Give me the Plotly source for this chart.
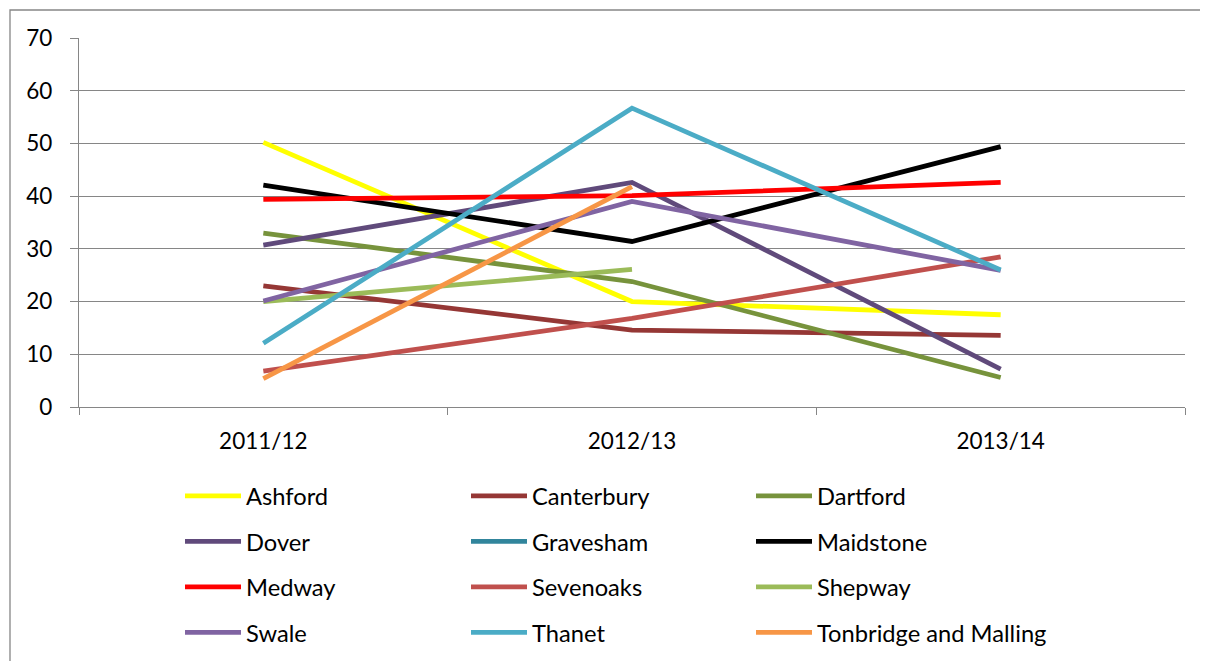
import plotly.graph_objects as go

years = ["2011/12", "2012/13", "2013/14"]
names = ["Ashford", "Canterbury", "Dartford", "Dover", "Gravesham", "Maidstone",
         "Medway", "Sevenoaks", "Shepway", "Swale", "Thanet", "Tonbridge and Malling"]
ashford = [50.2, 20.0, 17.5]
canterbury = [23.0, 14.6, 13.6]
dartford = [33.0, 23.8, 5.6]
dover = [30.7, 42.6, 7.2]
gravesham = [None, None, None]
maidstone = [42.1, 31.4, 49.4]
medway = [39.4, 40.1, 42.6]
sevenoaks = [6.8, 16.8, 28.5]
shepway = [20.0, 26.1, None]
swale = [20.1, 39.0, 25.9]
thanet = [12.1, 56.7, 26.0]
tonbridge = [5.4, 41.8, None]
series = [ashford, canterbury, dartford, dover, gravesham, maidstone,
          medway, sevenoaks, shepway, swale, thanet, tonbridge]
colors = ["#FFFF00", "#953735", "#77933C", "#604A7B", "#31859C", "#000000",
          "#FF0000", "#C0504D", "#9BBB59", "#8064A2", "#4BACC6", "#F79646"]

FONT = "Lato"
OFF = 8  # page body margin
W, H = 1208 - OFF, 661 - OFF
ML, MT = 79 - OFF, 38 - OFF
MR = W - (1185 - OFF)
MB = H - (407 - OFF)
PW, PH = W - ML - MR, H - MT - MB

fig = go.Figure()
legends = ["legend", "legend2", "legend3"]
for i, (n, v, c) in enumerate(zip(names, series, colors)):
    fig.add_trace(go.Scatter(x=years, y=v, name=n, mode="lines",
                             line=dict(color=c, width=4.8),
                             legend=legends[i % 3], legendgroup=n))

def px2paper_x(px):
    return (px - OFF - ML) / PW

def px2paper_y(py):
    return (H - MB - (py - OFF)) / PH

col_x = [180, 466, 751]
leg_common = dict(orientation="v", tracegroupgap=11.7,
                  font=dict(family=FONT, size=23.7, color="#000000"),
                  bgcolor="rgba(0,0,0,0)", itemwidth=56,
                  xanchor="left", yanchor="middle")
layout_leg = {}
for k, cx in zip(legends, col_x):
    layout_leg[k] = dict(leg_common, x=px2paper_x(cx), y=px2paper_y(564.5))

fig.update_layout(
    width=W, height=H,
    margin=dict(l=ML, r=MR, t=MT, b=MB, autoexpand=False),
    paper_bgcolor="white", plot_bgcolor="white",
    font=dict(family=FONT, size=22, color="#000000"),
    showlegend=True,
    xaxis=dict(type="category", range=[-0.5, 2.5], tickson="boundaries",
               showgrid=False, showline=True, linecolor="#868686", linewidth=1.3,
               ticks="outside", ticklen=7, tickcolor="#868686", tickwidth=1.3,
               ticklabelstandoff=14, tickfont=dict(family=FONT, size=22.5)),
    yaxis=dict(range=[0, 70], dtick=10, showgrid=True, gridcolor="#868686", gridwidth=1.3,
               showline=True, linecolor="#868686", linewidth=1.3,
               ticks="outside", ticklen=8, tickcolor="#868686", tickwidth=1.3,
               ticklabelstandoff=13, zeroline=False, tickfont=dict(family=FONT, size=22.5)),
    shapes=[dict(type="rect", xref="paper", yref="paper",
                 x0=px2paper_x(10), x1=px2paper_x(1215),
                 y0=px2paper_y(670), y1=px2paper_y(10),
                 line=dict(color="#868686", width=1.3), fillcolor="rgba(0,0,0,0)",
                 layer="below")],
    **layout_leg,
)

fig.write_html("out.html")
